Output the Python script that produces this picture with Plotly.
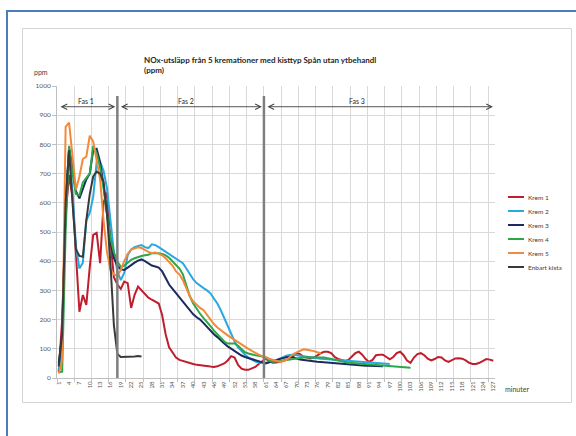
import plotly.graph_objects as go

# ---------------- data ----------------
minutes = list(range(1, 128))

krem1 = [20, 200, 560, 695, 620, 440, 227, 284, 250, 380,
         490, 497, 393, 600, 635, 470, 345, 320, 305, 330,
         325, 240, 285, 313, 300, 290, 275, 268, 262, 255,
         215, 150, 105, 85, 70, 62, 58, 55, 52, 48,
         45, 43, 41, 40, 39, 38, 40, 45, 50, 60,
         75, 70, 45, 32, 28, 28, 32, 38, 48, 58,
         66, 58, 52, 53, 55, 58, 62, 68, 75, 85,
         82, 73, 70, 67, 70, 78, 85, 90, 90, 85,
         72, 65, 62, 58, 62, 72, 85, 90, 80, 65,
         55, 62, 78, 80, 80, 72, 64, 72, 85, 90,
         78, 60, 52, 70, 82, 85, 78, 66, 60, 65,
         72, 70, 60, 55, 62, 67, 68, 66, 60, 52,
         48, 48, 52, 60, 65, 63, 59]

krem2 = [30, 100, 600, 780, 640, 450, 375, 395, 540, 565,
         620, 740, 740, 710, 650, 545, 430, 365, 335, 360,
         420, 440, 448, 452, 455, 448, 445, 458, 455, 448,
         440, 432, 422, 415, 408, 400, 393, 375, 355, 338,
         325, 315, 308, 300, 290, 272, 255, 232, 205, 175,
         148, 125, 105, 92, 80, 70, 62, 56, 53, 52,
         52, 54, 56, 60, 66, 72, 76, 79, 80, 78,
         76, 74, 72, 70, 68, 67, 66, 65, 64, 63,
         62, 61, 60, 60, 59, 58, 57, 57, 56, 55,
         54, 53, 52, 51, 50, 49, 48]

krem3 = [50, 150, 600, 790, 720, 640, 615, 650, 680, 700,
         780, 785, 740, 660, 560, 470, 410, 385, 372, 370,
         378, 388, 395, 402, 406, 400, 393, 385, 382, 378,
         365, 340, 320, 305, 290, 278, 262, 248, 233, 218,
         208, 200, 188, 175, 163, 150, 140, 128, 118, 108,
         100, 92, 84, 77, 72, 68, 64, 60, 56, 52,
         50, 54, 58, 62, 65, 68, 71, 73, 70, 66,
         63, 62, 60, 58, 57, 56, 55, 54, 52, 51,
         50, 49, 48, 46, 45, 45, 44, 44, 43, 42,
         42, 41, 41, 40, 40]

krem4 = [20, 22, 500, 795, 700, 630, 625, 670, 685, 700,
         795, 770, 720, 650, 560, 480, 430, 400, 380, 385,
         395, 405, 410, 415, 418, 420, 422, 428, 428, 427,
         425, 420, 412, 400, 390, 375, 355, 320, 280, 255,
         235, 220, 205, 192, 178, 162, 150, 138, 125, 118,
         118, 118, 110, 98, 88, 84, 80, 78, 76, 74,
         68, 60, 56, 56, 58, 60, 62, 64, 66, 67,
         68, 70, 71, 71, 71, 71, 71, 70, 68, 66,
         64, 60, 57, 54, 52, 51, 50, 50, 49, 48,
         47, 46, 45, 45, 44, 43, 42, 41, 40, 39,
         37, 36, 35]

krem5 = [15, 60, 860, 875, 760, 645, 690, 750, 758, 830,
         810, 740, 680, 540, 430, 370, 355, 350, 370, 400,
         425, 440, 445, 448, 445, 438, 432, 428, 430, 425,
         420, 410, 398, 385, 365, 355, 335, 305, 280, 262,
         250, 240, 232, 215, 200, 185, 173, 163, 155, 146,
         138, 130, 122, 115, 108, 100, 93, 86, 80, 75,
         72, 66, 62, 58, 56, 57, 62, 72, 82, 88,
         94, 98, 97, 95, 92, 88, 85]

kista = [40, 150, 600, 780, 600, 440, 418, 415, 540, 630,
         690, 707, 700, 672, 560, 390, 180, 82, 72, 72,
         73, 74, 74, 75, 74]

series_names = ["Krem 1", "Krem 2", "Krem 3", "Krem 4", "Krem 5", "Enbart kista"]
series_values = [krem1, krem2, krem3, krem4, krem5, kista]
series_colors = ["#BE1E2D", "#2AA8E0", "#1C2A5E", "#2CA64A", "#F28A3A", "#3A3A3A"]

x_tick_vals = list(range(1, 128, 3))
x_tick_labels = [str(v) for v in x_tick_vals]
y_tick_vals = list(range(0, 1001, 100))

phase_bounds = [18, 60.5]
phase_labels = ["Fas 1", "Fas 2", "Fas 3"]
phase_label_x = [9, 38, 87.5]

# ---------------- geometry helpers ----------------
W, H = 576, 436
L, R, T, B = 57, 81, 86, 58
PW, PH = W - L - R, H - T - B


def px_x(p):
    return (p - L) / PW


def px_y(p):
    return (H - B - p) / PH


FONT = "Lato, Open Sans, Liberation Sans, sans-serif"
TXT = "#404040"

fig = go.Figure()
for name, vals, col in zip(series_names, series_values, series_colors):
    fig.add_trace(go.Scatter(
        x=minutes[:len(vals)], y=vals, mode="lines", name=name,
        line=dict(color=col, width=2), showlegend=False,
    ))
# dummy trace to carry the grid axis
fig.add_trace(go.Scatter(x=[1], y=[None], xaxis="x2", mode="lines",
                         showlegend=False, hoverinfo="skip"))

shapes = []
annotations = []

# outer blue border (top + left) and chart frame
shapes.append(dict(type="line", xref="paper", yref="paper",
                   x0=px_x(6), x1=px_x(600), y0=px_y(11), y1=px_y(11),
                   line=dict(color="#4A7EBB", width=2)))
shapes.append(dict(type="line", xref="paper", yref="paper",
                   x0=px_x(7), x1=px_x(7), y0=px_y(10), y1=px_y(460),
                   line=dict(color="#4A7EBB", width=2)))
shapes.append(dict(type="rect", xref="paper", yref="paper",
                   x0=px_x(22.5), x1=px_x(571.5), y0=px_y(28.5), y1=px_y(402.5),
                   line=dict(color="#D4D4D4", width=1), layer="below"))

# phase separator lines
for b in phase_bounds:
    shapes.append(dict(type="line", xref="x", yref="y", x0=b, x1=b, y0=0, y1=966,
                       line=dict(color="#7F7F7F", width=2.5), layer="above"))

# phase arrows
starts = [0.5] + phase_bounds
ends = phase_bounds + [127.5]
for s, e in zip(starts, ends):
    annotations.append(dict(
        x=e - 0.6, y=929, ax=s + 0.6, ay=929, xref="x", yref="y",
        axref="x", ayref="y", text="", showarrow=True,
        arrowside="end+start", arrowhead=5, arrowsize=1.2, arrowwidth=0.9,
        arrowcolor="#404040"))
for lab, lx in zip(phase_labels, phase_label_x):
    annotations.append(dict(x=lx, y=947, xref="x", yref="y", text=lab,
                            showarrow=False, font=dict(family=FONT, size=7, color="#262626")))

# title and axis captions
annotations.append(dict(
    x=px_x(142), y=px_y(53), xref="paper", yref="paper", xanchor="left", yanchor="top",
    align="left", showarrow=False,
    text="<b>NOx-utsläpp från 5 kremationer med kisttyp Spån utan ytbehandl<br>(ppm)</b>",
    font=dict(family=FONT, size=8, color="#262626")))
annotations.append(dict(x=px_x(32), y=px_y(72), xref="paper", yref="paper",
                        xanchor="left", yanchor="middle", showarrow=False, text="ppm",
                        font=dict(family=FONT, size=7, color=TXT)))
annotations.append(dict(x=px_x(503), y=px_y(389), xref="paper", yref="paper",
                        xanchor="left", yanchor="middle", showarrow=False, text="minuter",
                        font=dict(family=FONT, size=7, color=TXT)))

# legend (drawn manually to match the compact spacing)
for i, (name, col) in enumerate(zip(series_names, series_colors)):
    yy = 197 + 14 * i
    shapes.append(dict(type="line", xref="paper", yref="paper",
                       x0=px_x(508), x1=px_x(524), y0=px_y(yy), y1=px_y(yy),
                       line=dict(color=col, width=2)))
    annotations.append(dict(x=px_x(526), y=px_y(yy), xref="paper", yref="paper",
                            xanchor="left", yanchor="middle", showarrow=False, text=name,
                            font=dict(family=FONT, size=6.5, color=TXT)))

fig.update_layout(
    width=W, height=H,
    margin=dict(l=L, r=R, t=T, b=B, pad=0),
    paper_bgcolor="white", plot_bgcolor="white",
    font=dict(family=FONT, size=7, color=TXT),
    showlegend=False,
    xaxis=dict(range=[0.5, 127.5], tickmode="array", tickvals=x_tick_vals,
               ticktext=x_tick_labels, tickangle=-90, showgrid=False, zeroline=False,
               showline=True, linecolor="#BFBFBF", linewidth=1, ticks="",
               tickfont=dict(family=FONT, size=6, color="#595959"), fixedrange=True),
    xaxis2=dict(range=[0.5, 127.5], overlaying="x", anchor="y", side="bottom",
                tickmode="linear", tick0=0.5, dtick=5, showgrid=True,
                gridcolor="#D9D9D9", gridwidth=1, showticklabels=False,
                ticks="outside", ticklen=3, tickcolor="#BFBFBF", zeroline=False,
                showline=False, fixedrange=True),
    yaxis=dict(range=[0, 1000], tickmode="array", tickvals=y_tick_vals,
               showgrid=True, gridcolor="#D9D9D9", gridwidth=1, zeroline=False,
               showline=True, linecolor="#BFBFBF", linewidth=1, ticks="outside",
               ticklen=4, tickcolor="#BFBFBF",
               tickfont=dict(family=FONT, size=6.5, color="#595959"), fixedrange=True),
    shapes=shapes,
    annotations=annotations,
)

fig.write_html("out.html")
